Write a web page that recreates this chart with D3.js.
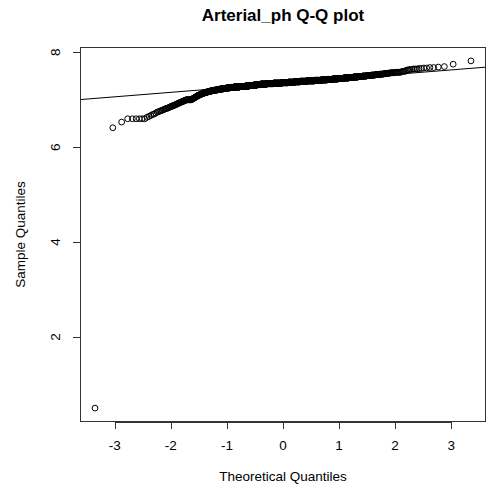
<!DOCTYPE html>
<html><head><meta charset="utf-8">
<script src="https://cdn.jsdelivr.net/npm/d3@7"></script>
<style>body{margin:0;background:#fff}</style>
</head><body>
<svg id="c" width="494" height="495"></svg>
<script>
const title = "Arterial_ph Q-Q plot";
const xLabel = "Theoretical Quantiles";
const yLabel = "Sample Quantiles";
const xTicks = [-3, -2, -1, 0, 1, 2, 3];
const yTicks = [2, 4, 6, 8];

// Observed arterial pH values (sorted) and how many observations share each value
const phValues = [0.50, 6.41, 6.53, 6.60, 6.63, 6.65, 6.67, 6.69, 6.70, 6.72,
  6.74, 6.75, 6.76, 6.77, 6.78, 6.79, 6.80, 6.81, 6.82,
  6.83, 6.84, 6.85, 6.86, 6.87, 6.88, 6.89, 6.90, 6.91, 6.92, 6.93, 6.94,
  6.95, 6.96, 6.97, 6.98, 6.99, 7.00, 7.01, 7.02, 7.03,
  7.04, 7.05, 7.06, 7.07, 7.08, 7.09, 7.10, 7.11, 7.12, 7.13, 7.14,
  7.15, 7.16, 7.17, 7.18, 7.19, 7.20, 7.21, 7.22, 7.23, 7.24, 7.25, 7.26,
  7.27, 7.28, 7.29, 7.30, 7.31, 7.32, 7.33, 7.34, 7.35, 7.36, 7.37, 7.38,
  7.39, 7.40, 7.41, 7.42, 7.43, 7.44, 7.45, 7.46, 7.47, 7.48, 7.49, 7.50,
  7.51, 7.52, 7.53, 7.54, 7.55, 7.56, 7.57, 7.58, 7.59, 7.60, 7.62,
  7.63, 7.64, 7.65, 7.66, 7.67, 7.68, 7.69, 7.70, 7.75, 7.82];
const phCounts = [1, 1, 1, 6, 1, 1, 1, 1, 1, 1,
  1, 1, 1, 1, 1, 1, 1, 1, 2,
  1, 1, 1, 2, 1, 2, 1, 2, 1, 2, 1, 2,
  2, 2, 2, 2, 2, 12, 2, 2, 2,
  2, 2, 2, 2, 2, 3, 3, 3, 3, 4, 4,
  5, 6, 6, 7, 8, 12, 10, 12, 14, 16, 18, 24,
  36, 39, 28, 34, 26, 30, 50, 60, 70, 60, 55, 50,
  55, 60, 50, 40, 36, 30, 28, 24, 20, 18, 15, 13,
  12, 10, 9, 8, 6, 5, 6, 7, 1, 3, 1,
  2, 2, 3, 2, 2, 2, 1, 1, 1, 1];

// inverse standard normal CDF (Acklam)
function qnorm(p) {
  const a = [-3.969683028665376e+01, 2.209460984245205e+02, -2.759285104469687e+02, 1.383577518672690e+02, -3.066479806614716e+01, 2.506628277459239e+00];
  const b = [-5.447609879822406e+01, 1.615858368580409e+02, -1.556989798598866e+02, 6.680131188771972e+01, -1.328068155288572e+01];
  const c = [-7.784894002430293e-03, -3.223964580411365e-01, -2.400758277161838e+00, -2.549732539343734e+00, 4.374664141464968e+00, 2.938163982698783e+00];
  const d = [7.784695709041462e-03, 3.224671290700398e-01, 2.445134137142996e+00, 3.754408661907416e+00];
  const pl = 0.02425, ph = 1 - pl;
  let q, r;
  if (p < pl) { q = Math.sqrt(-2 * Math.log(p)); return (((((c[0]*q+c[1])*q+c[2])*q+c[3])*q+c[4])*q+c[5]) / ((((d[0]*q+d[1])*q+d[2])*q+d[3])*q+1); }
  if (p > ph) { q = Math.sqrt(-2 * Math.log(1 - p)); return -(((((c[0]*q+c[1])*q+c[2])*q+c[3])*q+c[4])*q+c[5]) / ((((d[0]*q+d[1])*q+d[2])*q+d[3])*q+1); }
  q = p - 0.5; r = q * q;
  return (((((a[0]*r+a[1])*r+a[2])*r+a[3])*r+a[4])*r+a[5])*q / (((((b[0]*r+b[1])*r+b[2])*r+b[3])*r+b[4])*r+1);
}

// expand to the sorted sample and pair with theoretical quantiles (like qqnorm)
const sample = [];
phValues.forEach((v, i) => { for (let k = 0; k < phCounts[i]; k++) sample.push(v); });
const n = sample.length;
const a = n <= 10 ? 3 / 8 : 0.5;
const pts = sample.map((v, i) => ({ x: qnorm((i + 1 - a) / (n + 1 - 2 * a)), y: v }));

// qqline through the quartiles
const yq = [d3.quantileSorted(sample, 0.25), d3.quantileSorted(sample, 0.75)];
const xq = [qnorm(0.25), qnorm(0.75)];
const slope = (yq[1] - yq[0]) / (xq[1] - xq[0]);
const intercept = yq[0] - slope * xq[0];

const L = 80, R = 486, T = 47, B = 422;
function ext(e) { const r = e[1] - e[0]; return [e[0] - 0.04 * r, e[1] + 0.04 * r]; }
const x = d3.scaleLinear().domain(ext(d3.extent(pts, d => d.x))).range([L, R]);
const y = d3.scaleLinear().domain(ext(d3.extent(pts, d => d.y))).range([B, T]);

const svg = d3.select("#c");
const font = "'Liberation Sans', Arial, sans-serif";

svg.append("defs").append("clipPath").attr("id", "pr")
  .append("rect").attr("x", L).attr("y", T).attr("width", R - L).attr("height", B - T);

// qqline
const xd = x.domain();
svg.append("line").attr("clip-path", "url(#pr)")
  .attr("x1", x(xd[0])).attr("y1", y(intercept + slope * xd[0]))
  .attr("x2", x(xd[1])).attr("y2", y(intercept + slope * xd[1]))
  .attr("stroke", "#000").attr("stroke-width", 1);

// points
svg.append("g").selectAll("circle").data(pts).join("circle")
  .attr("cx", d => x(d.x)).attr("cy", d => y(d.y)).attr("r", 2.9)
  .attr("fill", "none").attr("stroke", "#000").attr("stroke-width", 1);

// box
svg.append("rect").attr("x", L + 0.5).attr("y", T + 0.5).attr("width", R - L - 1).attr("height", B - T - 1)
  .attr("fill", "none").attr("stroke", "#333").attr("stroke-width", 1);

// x axis
const gx = svg.append("g");
gx.append("line").attr("x1", x(xTicks[0])).attr("x2", x(xTicks[xTicks.length - 1]))
  .attr("y1", B + 0.5).attr("y2", B + 0.5).attr("stroke", "#333");
xTicks.forEach(t => {
  gx.append("line").attr("x1", Math.round(x(t)) + 0.5).attr("x2", Math.round(x(t)) + 0.5)
    .attr("y1", B).attr("y2", B + 7).attr("stroke", "#333");
  gx.append("text").attr("x", x(t)).attr("y", 450).attr("text-anchor", "middle")
    .attr("font-family", font).attr("font-size", 13.5).attr("fill", "#000").text(t);
});
// y axis
const gy = svg.append("g");
gy.append("line").attr("y1", y(yTicks[0])).attr("y2", y(yTicks[yTicks.length - 1]))
  .attr("x1", L + 0.5).attr("x2", L + 0.5).attr("stroke", "#333");
yTicks.forEach(t => {
  gy.append("line").attr("y1", Math.round(y(t)) + 0.5).attr("y2", Math.round(y(t)) + 0.5)
    .attr("x1", L - 7).attr("x2", L).attr("stroke", "#333");
  gy.append("text").attr("transform", `translate(60,${y(t)}) rotate(-90)`).attr("text-anchor", "middle")
    .attr("font-family", font).attr("font-size", 13.5).attr("fill", "#000").text(t);
});

svg.append("text").attr("x", (L + R) / 2).attr("y", 481).attr("text-anchor", "middle")
  .attr("font-family", font).attr("font-size", 13.5).attr("fill", "#000").text(xLabel);
svg.append("text").attr("transform", `translate(25,${(T + B) / 2}) rotate(-90)`).attr("text-anchor", "middle")
  .attr("font-family", font).attr("font-size", 13.5).attr("fill", "#000").text(yLabel);
svg.append("text").attr("x", (L + R) / 2).attr("y", 21).attr("text-anchor", "middle")
  .attr("font-family", font).attr("font-size", 17).attr("font-weight", "bold").attr("fill", "#000").text(title);
</script>
</body></html>
